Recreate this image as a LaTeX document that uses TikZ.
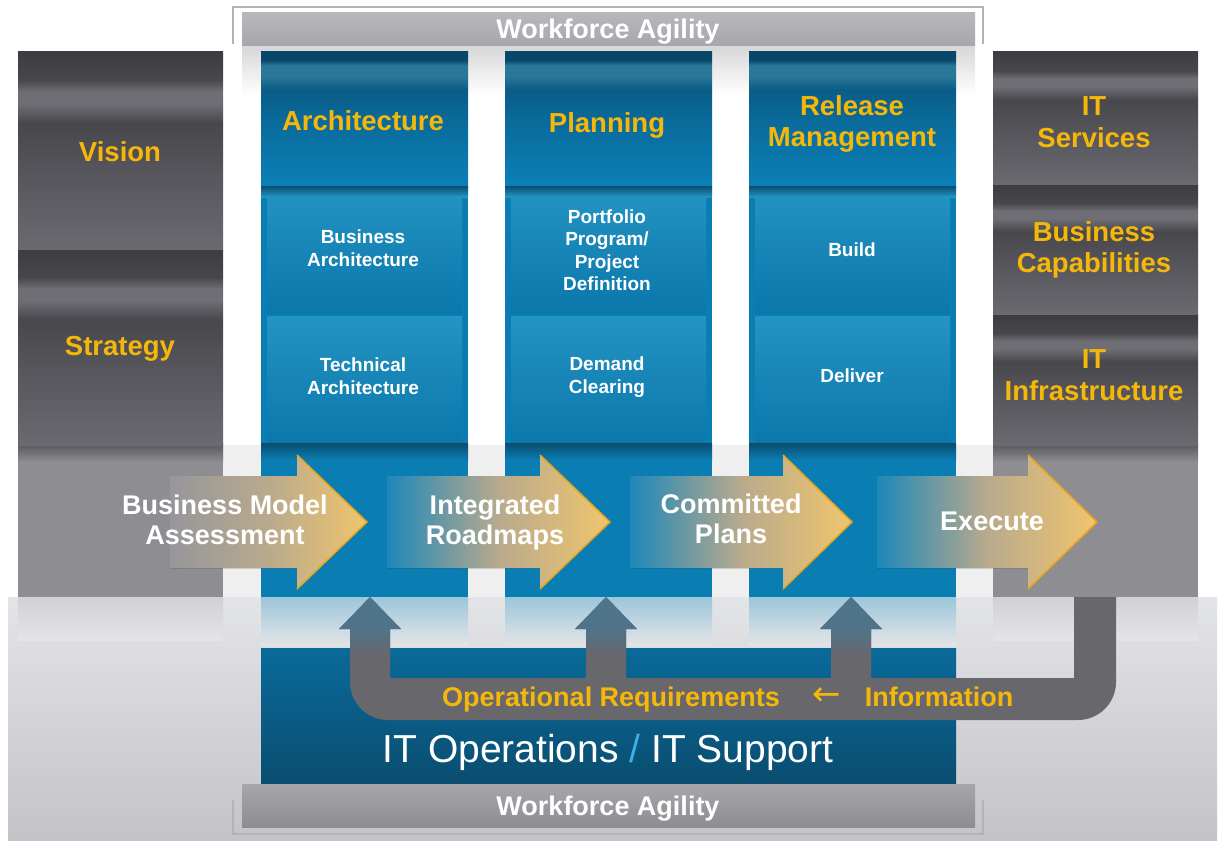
\documentclass[tikz,border=0pt]{standalone}
\usepackage{fontspec}
\setmainfont{Liberation Sans}
\newfontfamily\arrowfont{DejaVu Sans}
\usetikzlibrary{positioning}

% Colours
\definecolor{colblue}{HTML}{0A7DB3}
\definecolor{subl}{HTML}{2394C3}
\definecolor{subd}{HTML}{0B77AB}
\definecolor{bandblue}{HTML}{0A4D70}
\definecolor{refblue}{HTML}{9CC6DA}
\definecolor{hb1}{HTML}{0B80B8}
\definecolor{hb2}{HTML}{0A6A9A}
\definecolor{hb3}{HTML}{0A5C86}
\definecolor{hb4}{HTML}{2A7898}
\definecolor{hb5}{HTML}{08476A}
\definecolor{gd1}{HTML}{6A6A70}
\definecolor{gd2}{HTML}{55555B}
\definecolor{gd3}{HTML}{47474C}
\definecolor{gd4}{HTML}{6E6E74}
\definecolor{gd5}{HTML}{3C3C41}
\definecolor{lowgray}{HTML}{8D8D92}
\definecolor{gapgray}{HTML}{EFEFEF}
\definecolor{floortop}{HTML}{E3E4E7}
\definecolor{floorbot}{HTML}{C4C4C8}
\definecolor{gold}{HTML}{F5B80A}
\definecolor{arrowgold}{HTML}{F0C56E}
\definecolor{edgegold}{HTML}{E8A51E}
\definecolor{fadetan}{HTML}{ABA394}
\definecolor{bargray}{HTML}{A6A6AB}
\definecolor{linegray}{HTML}{B2B2B7}
\definecolor{ugray}{HTML}{67676C}
\definecolor{headblue}{HTML}{4F7489}
\definecolor{slashblue}{HTML}{3DB2E6}

\pgfdeclareverticalshading{hdrshade}{100bp}{color(0bp)=(hb1); color(25bp)=(hb1); color(50bp)=(hb2); color(61bp)=(hb3); color(66bp)=(hb4); color(70bp)=(hb4); color(72bp)=(hb5); color(75bp)=(hb5); color(100bp)=(hb5)}
\pgfdeclareverticalshading{grayshade}{100bp}{color(0bp)=(gd1); color(25bp)=(gd1); color(45bp)=(gd2); color(57bp)=(gd3); color(62bp)=(gd4); color(65bp)=(gd4); color(68bp)=(gd3); color(75bp)=(gd5); color(100bp)=(gd5)}

\tikzset{
  hdrtext/.style={font={\bfseries\fontsize{27.5}{31.5}\selectfont}, text=gold, align=center, inner sep=0pt},
  subtext/.style={font={\bfseries\fontsize{19}{22.5}\selectfont}, text=white, align=center, inner sep=0pt},
  flowtext/.style={font={\bfseries\fontsize{27}{30}\selectfont}, text=white, align=center, inner sep=0pt},
  agiltext/.style={font={\bfseries\fontsize{27}{30}\selectfont}, text=white, inner sep=0pt},
  looptext/.style={font={\bfseries\fontsize{27}{30}\selectfont}, text=gold, inner sep=0pt},
}

\begin{document}
\begin{tikzpicture}[x=1pt, y=-1pt]
        \useasboundingbox (0,0) rectangle (1222,840);

        % Draw the floor and the band behind the arrows
        \fill[top color=floortop, bottom color=floorbot] (8,597) rectangle (1217,840);
        \fill[gapgray] (18,445) rectangle (1198,597);

        % Draw the top workforce bar
        \fill[top color=white!55!bargray, bottom color=white] (242,46) rectangle (975,95);
        \fill[top color=bargray!80, bottom color=bargray] (242,13) rectangle (975,46);
        \draw[linegray, line width=2pt] (233,44) -- (233,7) -- (983,7) -- (983,44);

        % Draw the gray side columns
        \foreach \x in {18, 993} {
            \fill[lowgray] (\x,52) rectangle ({\x+205},597);
            \fill[top color=gd2, bottom color=lowgray] (\x,443) rectangle ({\x+205},462);
            \fill[top color=white!60!lowgray, bottom color=floortop] (\x,597) rectangle ({\x+205},640);
        }
        \foreach \y/\h in {52/250, 250/445}
            \shade[shading=grayshade] (18,\y) rectangle (223,\h);
        \foreach \y/\h in {52/185, 185/315, 315/445}
            \shade[shading=grayshade] (993,\y) rectangle (1198,\h);

        % Draw the blue columns
        \foreach \x in {261, 505, 749} {
            \fill[colblue] (\x,52) rectangle ({\x+207},597);
            \shade[shading=hdrshade] (\x,52) rectangle ({\x+207},187);
            \fill[top color=subl, bottom color=subd] ({\x+6},189) rectangle ({\x+201},313);
            \fill[top color=subl, bottom color=subd] ({\x+6},316) rectangle ({\x+201},443);
            \fill[top color=bandblue, bottom color=subl] (\x,186) rectangle ({\x+207},197);
            \fill[top color=bandblue, bottom color=colblue] (\x,443) rectangle ({\x+207},460);
            \fill[top color=refblue, bottom color=floortop] (\x,597) rectangle ({\x+207},645);
        }

        % Draw the IT operations box
        \fill[top color=hb2, middle color=colblue, bottom color=bandblue] (261,648) rectangle (956,784);

        % Draw the feedback loop
        \fill[ugray] (350,682) -- (350,629) -- (339,629) -- (370,597) -- (401,629) -- (390,629)
            -- (390,678) -- (586,678) -- (586,629) -- (575,629) -- (606,597) -- (637,629) -- (626,629)
            -- (626,678) -- (831,678) -- (831,629) -- (820,629) -- (851,597) -- (882,629) -- (871,629)
            -- (871,678) -- (1074,678) -- (1074,597) -- (1116,597) -- (1116,682)
            arc[start angle=0, end angle=90, radius=38] -- (388,720)
            arc[start angle=90, end angle=180, radius=38] -- cycle;
        \foreach \c in {370, 606, 851} {
            \fill[headblue] ({\c-31},629) -- (\c,597) -- ({\c+31},629) -- cycle;
            \fill[top color=headblue, bottom color=ugray] ({\c-20},629) rectangle ({\c+20},655);
        }

        % Draw the flow arrows
        \foreach \s/\b/\t/\c in {170/297/367/lowgray, 387/540/610/colblue, 630/783/852/colblue, 877/1028/1097/colblue} {
            \fill[left color=\c!92!white, right color=arrowgold, middle color=fadetan!80!arrowgold]
                (\s,476) -- (\b,476) -- (\b,455) -- (\t,522) -- (\b,589) -- (\b,568) -- (\s,568) -- cycle;
            \draw[edgegold, line width=1.5pt, line join=round] (\b,455) -- (\t,522) -- (\b,589);
        }

        % Add column headings
        \node[hdrtext] (vision) at (120,152) {Vision};
        \node[hdrtext] (strategy) at (120,349) {Strategy};
        \node[hdrtext] (arch) at (363,121) {Architecture};
        \node[hdrtext] (plan) at (607,125) {Planning};
        \node[hdrtext] (release) at (852,124) {Release\\Management};
        \node[hdrtext] (services) at (1094,122) {IT\\Services};
        \node[hdrtext] (capab) at (1094,250) {Business\\Capabilities};
        \node[hdrtext] (infra) at (1094,375) {IT\\Infrastructure};

        % Add the column items
        \node[subtext] (busarch) at (363,248) {Business\\Architecture};
        \node[subtext] (techarch) at (363,376) {Technical\\Architecture};
        \node[subtext] (portfolio) at (607,250) {Portfolio\\Program/\\Project\\Definition};
        \node[subtext] (demand) at (607,377) {Demand\\Clearing};
        \node[subtext] (build) at (852,250) {Build};
        \node[subtext] (deliver) at (852,376) {Deliver};

        % Add the flow labels
        \node[flowtext] (assess) at (225,520) {Business Model\\Assessment};
        \node[flowtext] (roadmaps) at (495,523) {Integrated\\Roadmaps};
        \node[flowtext] (committed) at (731,519) {Committed\\Plans};
        \node[flowtext] (execute) at (992,521) {Execute};

        % Add the loop labels
        \node[looptext] (opreq) at (611,700) {Operational Requirements};
        \node[looptext, font={\arrowfont\fontsize{34}{36}\selectfont}] (back) at (827,697) {←};
        \node[looptext] (info) at (939,697) {Information};

        % Add the operations label
        \node[inner sep=0pt, text=white, font={\fontsize{39}{44}\selectfont}] (itops) at (608,752)
            {IT Operations {\color{slashblue}/} IT Support};

        % Draw the bottom workforce bar
        \fill[top color=bargray, bottom color=bargray!85!black] (242,784) rectangle (975,827);
        \draw[linegray, line width=2pt] (233,800) -- (233,834) -- (983,834) -- (983,800);

        % Add the workforce labels
        \node[agiltext] (agiltop) at (608,32) {Workforce Agility};
        \node[agiltext] (agilbottom) at (608,809) {Workforce Agility};
    \end{tikzpicture}
\end{document}
